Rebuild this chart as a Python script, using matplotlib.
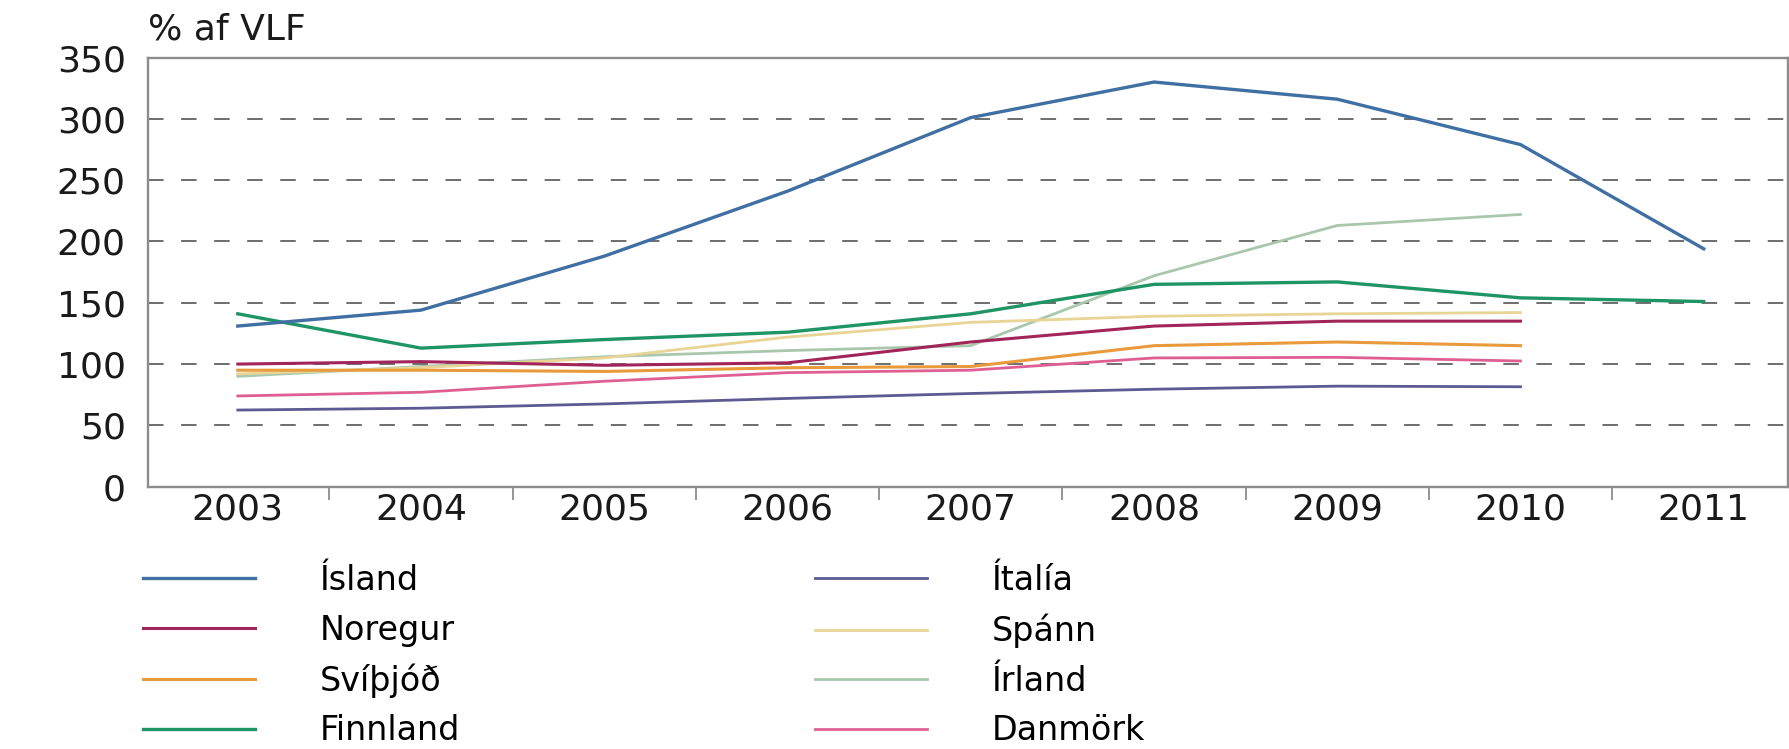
import matplotlib.pyplot as plt
import numpy as np

years = ["2003", "2004", "2005", "2006", "2007", "2008", "2009", "2010", "2011"]

island   = [131, 144, 188, 241, 301, 330, 316, 279, 194]
noregur  = [100, 102, 99, 101, 118, 131, 135, 135]
svithjod = [95, 95, 94, 97, 98, 115, 118, 115]
finnland = [141, 113, 120, 126, 141, 165, 167, 154, 151]
italia   = [62.5, 64, 67.5, 72, 76, 79.5, 82, 81.5]
spann    = [92, 97, 105, 122, 134, 139, 141, 142]
irland   = [90, 98, 106, 111, 115, 172, 213, 222]
danmork  = [74, 77, 86, 93, 95, 105, 105.5, 102.5]

series = [
    ("Ísland", island, "#3f6fa3", 2.4),
    ("Noregur", noregur, "#a2255a", 2.2),
    ("Svíþjóð", svithjod, "#e89a3c", 2.2),
    ("Finnland", finnland, "#1f9465", 2.4),
    ("Ítalía", italia, "#5b5a92", 2.0),
    ("Spánn", spann, "#e8d595", 2.0),
    ("Írland", irland, "#a9c7ad", 2.0),
    ("Danmörk", danmork, "#df5f95", 2.0),
]

W, H = 1789, 749
fig = plt.figure(figsize=(W / 100, H / 100), dpi=100)
ax = fig.add_axes([148 / W, 1 - 486.7 / H, (W - 149) / W, (486.7 - 57.5) / H])

# draw the light ones first so the darker lines sit on top
for name, vals, col, lw in series[::-1]:
    ax.plot(np.arange(len(vals)), vals, color=col, lw=lw, label=name)

ax.set_ylim(0, 350)
ax.set_xlim(-0.49, 8.46)
ax.set_yticks(range(0, 351, 50))
ax.set_xticks(range(len(years)))
ax.set_xticklabels(years)
ax.set_xticks(np.arange(0.5, len(years) - 0.5, 1), minor=True)

for v in range(50, 301, 50):
    ax.axhline(v, color="#6e6e6e", lw=1.4, dashes=(8, 9), zorder=0)

for s in ax.spines.values():
    s.set_color("#8c8c8c")
    s.set_linewidth(1.7)

fs = 26
ax.tick_params(axis="y", length=0, pad=16, labelsize=fs, colors="#1a1a1a")
ax.tick_params(axis="x", which="major", length=0, pad=4, labelsize=fs,
               colors="#1a1a1a")
ax.tick_params(axis="x", which="minor", length=9, width=1.3, color="#8c8c8c",
               direction="out")

fig.text(148 / W, 1 - 29 / H, "% af VLF", fontsize=fs, va="center",
         ha="left", color="#1a1a1a")

handles, labels = ax.get_legend_handles_labels()
order = ["Ísland", "Noregur", "Svíþjóð", "Finnland",
         "Ítalía", "Spánn", "Írland", "Danmörk"]
hmap = dict(zip(labels, handles))
fig.legend([hmap[k] for k in order], order, ncol=2, frameon=False,
           loc="upper left", bbox_to_anchor=(143 / W, 1 - 564 / H),
           fontsize=24, handlelength=3.35, handletextpad=1.95,
           columnspacing=10.65, labelspacing=0.5, borderpad=0,
           borderaxespad=0)

fig.savefig("out.png", dpi=100)
